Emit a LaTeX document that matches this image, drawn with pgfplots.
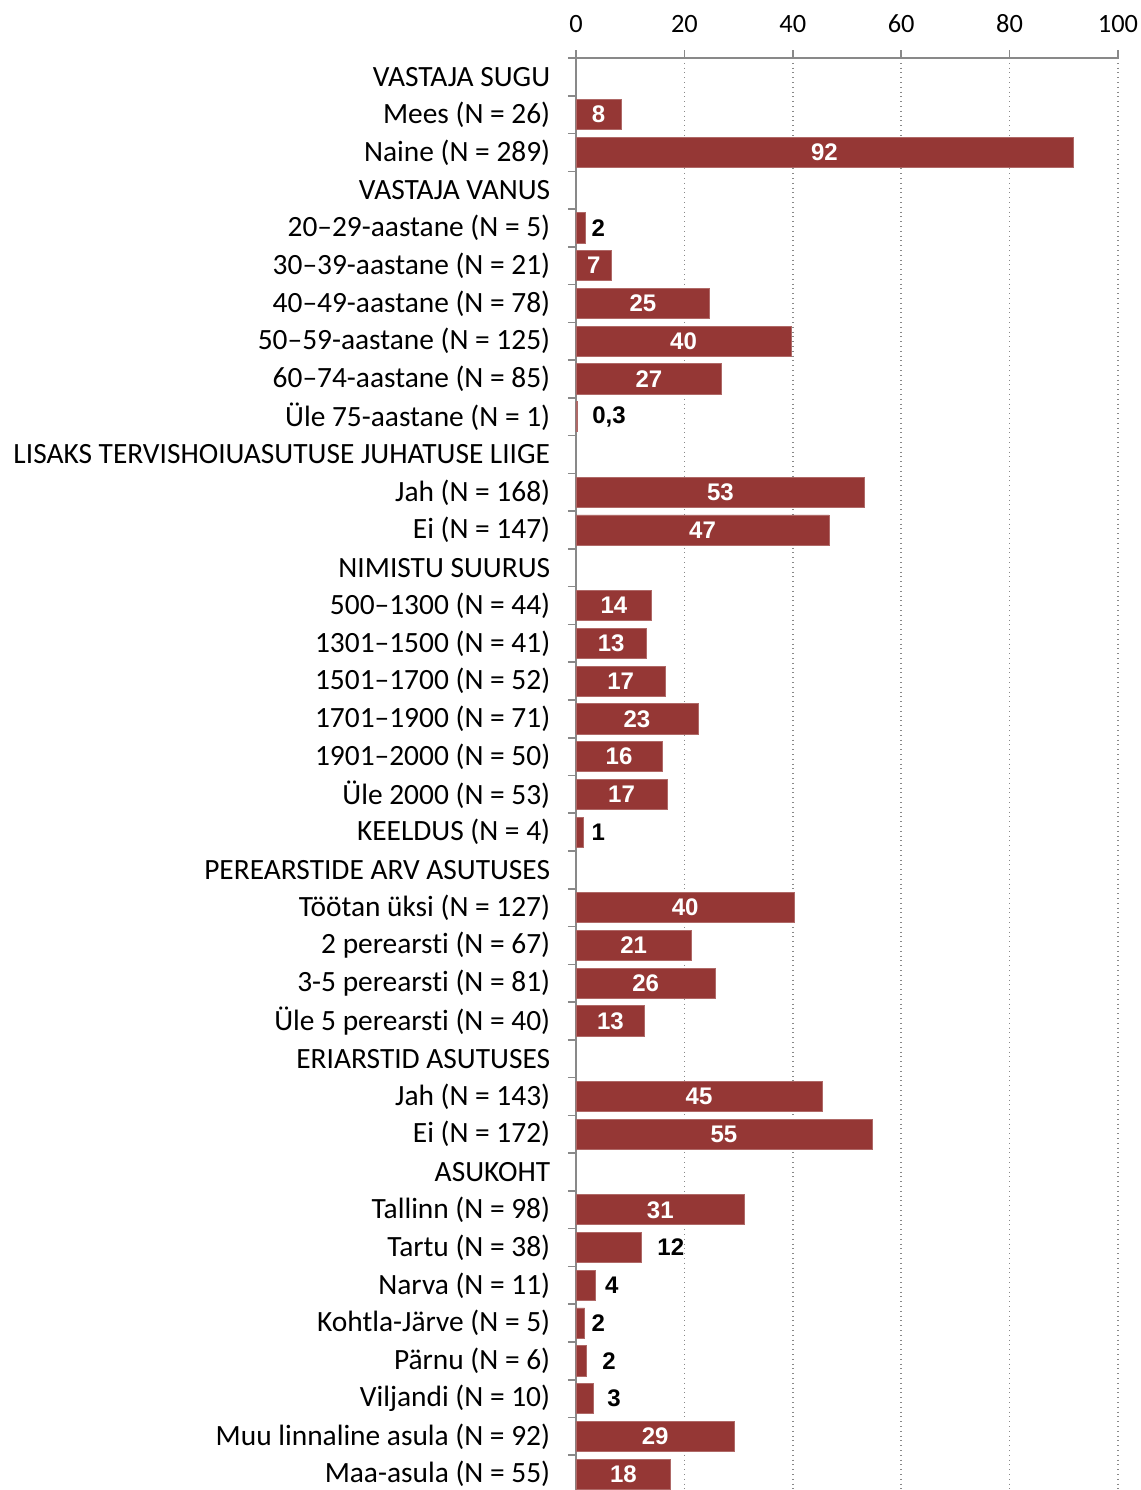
\documentclass[border=0pt]{standalone}
\usepackage{fontspec}
\setmainfont[Ligatures=NoCommon]{Carlito}
\newfontfamily\lblfont{Liberation Sans}
\usepackage{pgfplots}
\usepackage{pgfplotstable}
\pgfplotsset{compat=1.18}
\definecolor{barcol}{RGB}{149,55,53}
\definecolor{axgray}{RGB}{137,137,137}

\pgfplotstableread{
r v
2 8.3
3 91.7
5 1.66
6 6.6
7 24.7
8 39.7
9 26.9
10 0.3
12 53.3
13 46.7
15 14.0
16 13.0
17 16.5
18 22.5
19 15.9
20 16.8
21 1.3
23 40.3
24 21.3
25 25.7
26 12.7
28 45.4
29 54.6
31 31.1
32 12.1
33 3.5
34 1.6
35 1.9
36 3.2
37 29.2
38 17.5
}\bars

\pgfplotstableread{
r v l
2 8.3 8
3 91.7 92
6 6.6 7
7 24.7 25
8 39.7 40
9 26.9 27
12 53.3 53
13 46.7 47
15 14.0 14
16 13.0 13
17 16.5 17
18 22.5 23
19 15.9 16
20 16.8 17
23 40.3 40
24 21.3 21
25 25.7 26
26 12.7 13
28 45.4 45
29 54.6 55
31 31.1 31
37 29.2 29
38 17.5 18
}\inlab

\pgfplotstableread{
r x l
5 4.1 2
10 6.1 0,3
21 4.1 1
32 17.5 12
33 6.6 4
34 4.1 2
35 6.1 2
36 7.0 3
}\outlab

\begin{document}
\begin{tikzpicture}
\path[use as bounding box] (-288pt,1.5pt) rectangle (282.5pt,746.5pt);
\begin{axis}[
  at={(0,0)}, anchor=south west,
  scale only axis,
  width=271pt, height=717.5pt,
  xmin=0, xmax=100,
  ymin=0.5, ymax=38.5,
  y dir=reverse,
  axis x line*=top,
  axis y line*=left,
  axis line style={axgray, line width=0.8pt},
  xtick={0,20,40,60,80,100},
  xtick align=outside,
  ytick align=outside,
  major tick length=4pt,
  minor tick length=4pt,
  x tick style={axgray, line width=0.8pt},
  major y tick style={draw=none},
  minor y tick style={axgray, line width=0.8pt},
  ytick={1,...,38},
  minor ytick={0.5,1.5,...,38.5},
  xmajorgrids,
  grid style={axgray, dotted, line width=0.8pt},
  xticklabel style={font=\fontsize{13.2}{15}\selectfont, text=black, yshift=5pt},
  yticklabel style={font=\fontsize{14.7}{17}\selectfont, text=black, anchor=east, xshift=-5.4pt},
  /pgf/number format/assume math mode=true,
  yticklabels={
    {VASTAJA SUGU},
    {Mees (N = 26)},
    {Naine (N = 289)},
    {VASTAJA VANUS},
    {20–29-aastane (N = 5)},
    {30–39-aastane (N = 21)},
    {40–49-aastane (N = 78)},
    {50–59-aastane (N = 125)},
    {60–74-aastane (N = 85)},
    {Üle 75-aastane (N = 1)},
    {LISAKS TERVISHOIUASUTUSE JUHATUSE LIIGE},
    {Jah (N = 168)},
    {Ei (N = 147)},
    {NIMISTU SUURUS},
    {500–1300 (N = 44)},
    {1301–1500 (N = 41)},
    {1501–1700 (N = 52)},
    {1701–1900 (N = 71)},
    {1901–2000 (N = 50)},
    {Üle 2000 (N = 53)},
    {KEELDUS (N = 4)},
    {PEREARSTIDE ARV ASUTUSES},
    {Töötan üksi (N = 127)},
    {2 perearsti (N = 67)},
    {3-5 perearsti (N = 81)},
    {Üle 5 perearsti (N = 40)},
    {ERIARSTID ASUTUSES},
    {Jah (N = 143)},
    {Ei (N = 172)},
    {ASUKOHT},
    {Tallinn (N = 98)},
    {Tartu (N = 38)},
    {Narva (N = 11)},
    {Kohtla-Järve (N = 5)},
    {Pärnu (N = 6)},
    {Viljandi (N = 10)},
    {Muu linnaline asula (N = 92)},
    {Maa-asula (N = 55)}
  },
]
\addplot[xbar, bar width=0.8, bar shift=0pt, fill=barcol, draw=barcol!75!white, line width=0.4pt]
  table[x=v, y=r] {\bars};
\addplot[draw=none, mark=none, nodes near coords, point meta=explicit symbolic,
  every node near coord/.style={anchor=center, text=white, font=\lblfont\bfseries\fontsize{12}{14}\selectfont}]
  table[x expr=\thisrow{v}/2, y=r, meta=l] {\inlab};
\addplot[draw=none, mark=none, nodes near coords, point meta=explicit symbolic,
  every node near coord/.style={anchor=center, text=black, font=\lblfont\bfseries\fontsize{12}{14}\selectfont}]
  table[x=x, y=r, meta=l] {\outlab};
\end{axis}
\end{tikzpicture}
\end{document}
